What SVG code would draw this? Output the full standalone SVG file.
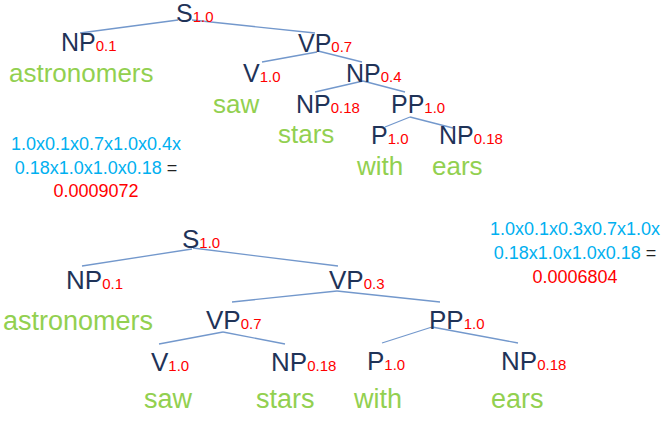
<svg xmlns="http://www.w3.org/2000/svg" width="671" height="432" viewBox="0 0 671 432">
<style>
text{font-family:"Liberation Sans",Arial,sans-serif}
.lab{fill:#1F3358}
.sub{fill:#FF0000;font-size:15px}
.word{fill:#92D050}
.t1{font-size:25px}
.t2{font-size:26px}
.w1{font-size:26px}
.w2{font-size:27px}
.f{font-size:18px;text-anchor:middle}
.blue{fill:#00B0F0}
.red{fill:#FF0000}
.eq{fill:#222}
.edges line{stroke:#7398CC;stroke-width:1.3}
</style>
<rect width="671" height="432" fill="#fff"/>
<g class="edges" id="edges">
<line x1="178" y1="20" x2="80" y2="33"/>
<line x1="192" y1="20" x2="315" y2="33"/>
<line x1="317" y1="52" x2="262" y2="62"/>
<line x1="318" y1="51" x2="362" y2="62"/>
<line x1="363" y1="81" x2="315" y2="92"/>
<line x1="363" y1="81" x2="405" y2="92"/>
<line x1="410" y1="117" x2="385" y2="127"/>
<line x1="410" y1="117" x2="453" y2="128"/>
<line x1="192" y1="249" x2="82" y2="266"/>
<line x1="193" y1="248" x2="338" y2="266"/>
<line x1="337" y1="291" x2="232" y2="302"/>
<line x1="337" y1="291" x2="440" y2="302"/>
<line x1="223" y1="332" x2="159" y2="344"/>
<line x1="223" y1="332" x2="285" y2="344"/>
<line x1="432" y1="327" x2="382" y2="343"/>
<line x1="432" y1="327" x2="518" y2="343"/>
</g>
<g id="tree1">
<g id="t1-S"><text x="176" y="22" class="t1"><tspan class="lab">S</tspan><tspan class="sub">1.0</tspan></text></g>
<g id="t1-NP1"><text x="61" y="51" class="t1"><tspan class="lab">NP</tspan><tspan class="sub">0.1</tspan></text></g>
<g id="t1-VP"><text x="298" y="52" class="t1"><tspan class="lab">VP</tspan><tspan class="sub">0.7</tspan></text></g>
<g id="t1-astronomers"><text x="9" y="82" class="word w1">astronomers</text></g>
<g id="t1-V"><text x="243" y="82" class="t1"><tspan class="lab">V</tspan><tspan class="sub">1.0</tspan></text></g>
<g id="t1-NP2"><text x="346" y="82" class="t1"><tspan class="lab">NP</tspan><tspan class="sub">0.4</tspan></text></g>
<g id="t1-saw"><text x="213" y="113" class="word w1">saw</text></g>
<g id="t1-NP3"><text x="296" y="113" class="t1"><tspan class="lab">NP</tspan><tspan class="sub">0.18</tspan></text></g>
<g id="t1-PP"><text x="391" y="113" class="t1"><tspan class="lab">PP</tspan><tspan class="sub">1.0</tspan></text></g>
<g id="t1-stars"><text x="278" y="143" class="word w1">stars</text></g>
<g id="t1-P"><text x="371" y="144" class="t1"><tspan class="lab">P</tspan><tspan class="sub">1.0</tspan></text></g>
<g id="t1-NP4"><text x="439" y="144" class="t1"><tspan class="lab">NP</tspan><tspan class="sub">0.18</tspan></text></g>
<g id="t1-with"><text x="357" y="175" class="word w1">with</text></g>
<g id="t1-ears"><text x="432" y="175" class="word w1">ears</text></g>
</g>
<g id="formula1">
<text x="96" y="150" class="f blue">1.0x0.1x0.7x1.0x0.4x</text>
<text x="96" y="174" class="f"><tspan class="blue">0.18x1.0x1.0x0.18</tspan><tspan class="eq"> =</tspan></text>
<text x="96" y="197" class="f red">0.0009072</text>
</g>
<g id="tree2">
<g id="t2-S"><text x="182" y="248" class="t2"><tspan class="lab">S</tspan><tspan class="sub">1.0</tspan></text></g>
<g id="t2-NP1"><text x="66" y="289" class="t2"><tspan class="lab">NP</tspan><tspan class="sub">0.1</tspan></text></g>
<g id="t2-VP1"><text x="329" y="289" class="t2"><tspan class="lab">VP</tspan><tspan class="sub">0.3</tspan></text></g>
<g id="t2-astronomers"><text x="3" y="330" class="word w2">astronomers</text></g>
<g id="t2-VP2"><text x="206" y="329" class="t2"><tspan class="lab">VP</tspan><tspan class="sub">0.7</tspan></text></g>
<g id="t2-PP"><text x="429" y="329" class="t2"><tspan class="lab">PP</tspan><tspan class="sub">1.0</tspan></text></g>
<g id="t2-V"><text x="151" y="371" class="t2"><tspan class="lab">V</tspan><tspan class="sub">1.0</tspan></text></g>
<g id="t2-NP2"><text x="271" y="371" class="t2"><tspan class="lab">NP</tspan><tspan class="sub">0.18</tspan></text></g>
<g id="t2-P"><text x="367" y="370" class="t2"><tspan class="lab">P</tspan><tspan class="sub">1.0</tspan></text></g>
<g id="t2-NP3"><text x="501" y="370" class="t2"><tspan class="lab">NP</tspan><tspan class="sub">0.18</tspan></text></g>
<g id="t2-saw"><text x="144" y="408" class="word w2">saw</text></g>
<g id="t2-stars"><text x="256" y="408" class="word w2">stars</text></g>
<g id="t2-with"><text x="354" y="408" class="word w2">with</text></g>
<g id="t2-ears"><text x="491" y="408" class="word w2">ears</text></g>
</g>
<g id="formula2">
<text x="575" y="235" class="f blue">1.0x0.1x0.3x0.7x1.0x</text>
<text x="575" y="259" class="f"><tspan class="blue">0.18x1.0x1.0x0.18</tspan><tspan class="eq"> =</tspan></text>
<text x="575" y="283" class="f red">0.0006804</text>
</g>
</svg>
